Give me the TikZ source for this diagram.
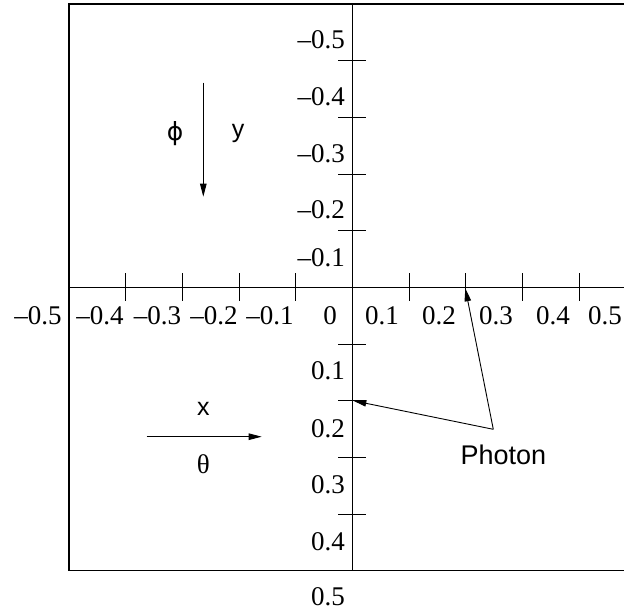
\documentclass[tikz,border=0pt]{standalone}
\usepackage{fontspec}
\setmainfont{Liberation Serif}
\newfontfamily\sansfam{Liberation Sans}
\newfontfamily\phifam{DejaVu Sans}
\usetikzlibrary{arrows.meta}

\begin{document}
\begin{tikzpicture}[x=1pt, y=-1pt,
    frame/.style={line width=1.3pt},
    axis/.style={line width=0.9pt},
    tick/.style={line width=0.9pt},
    num/.style={inner sep=0pt, font=\fontsize{27}{30}\selectfont},
    lbl/.style={inner sep=0pt, font=\sansfam\fontsize{25}{28}\selectfont},
    arrow/.style={line width=0.9pt, -{Triangle[length=13pt,width=6.5pt]}}]

\useasboundingbox (0,0) rectangle (624,614);
\clip (0,0) rectangle (624,614);

% frame and axes
\coordinate (tl) at (69,4);
\coordinate (br) at (635.67,570.67);
\coordinate (o) at (352.33,287.33);
\draw[frame] (tl) rectangle (br);
\draw[axis] (o |- tl) -- (o |- br);
\draw[axis] (o -| tl) -- (o -| br);

% ticks
\foreach \k in {0,...,9}
  \draw[tick] (69+56.67*\k,273.33) -- (69+56.67*\k,301.33);
\foreach \k in {-4,-3,-2,-1,1,2,3,4,5}
  \draw[tick] (338.33,287.33+56.67*\k) -- (366.33,287.33+56.67*\k);

% labels on the axes
\foreach \t/\p [count=\i] in {–0.5/38,–0.4/100,–0.3/157.5,–0.2/214,–0.1/270,0/330,0.1/382,0.2/439,0.3/496,0.4/553,0.5/605}
  \node[num] (hx\i) at (\p,315.5) {\t};
\foreach \t/\p [count=\i] in {–0.5/40,–0.4/97,–0.3/153.7,–0.2/210,–0.1/258,0.1/371,0.2/428.5,0.3/485,0.4/541.7,0.5/597}
  \node[num, anchor=east] (hy\i) at (345,\p) {\t};

% y direction
\node[lbl] (phi) at (175,134) {\phifam ϕ};
\node[lbl] (ylab) at (238,133.3) {y};
\coordinate (ytop) at (203.3,82.7);
\coordinate (ybot) at (203.3,196.7);
\draw[arrow] (ytop) -- (ybot);

% x direction
\node[lbl] (xlab) at (203.3,408.8) {x};
\node[num] (theta) at (203.3,464) {θ};
\coordinate (xleft) at (146.7,436.7);
\coordinate (xright) at (261.7,436.7);
\draw[arrow] (xleft) -- (xright);

% photon
\node[lbl, font=\sansfam\fontsize{27}{30}\selectfont] (photon) at (503.3,455) {Photon};
\coordinate (pj) at (493.3,429.3);
\coordinate (hit1) at (353.3,400.7);
\coordinate (hit2) at (465.3,288.3);
\draw[arrow] (pj) -- (hit1);
\draw[arrow] (pj) -- (hit2);

\end{tikzpicture}
\end{document}
